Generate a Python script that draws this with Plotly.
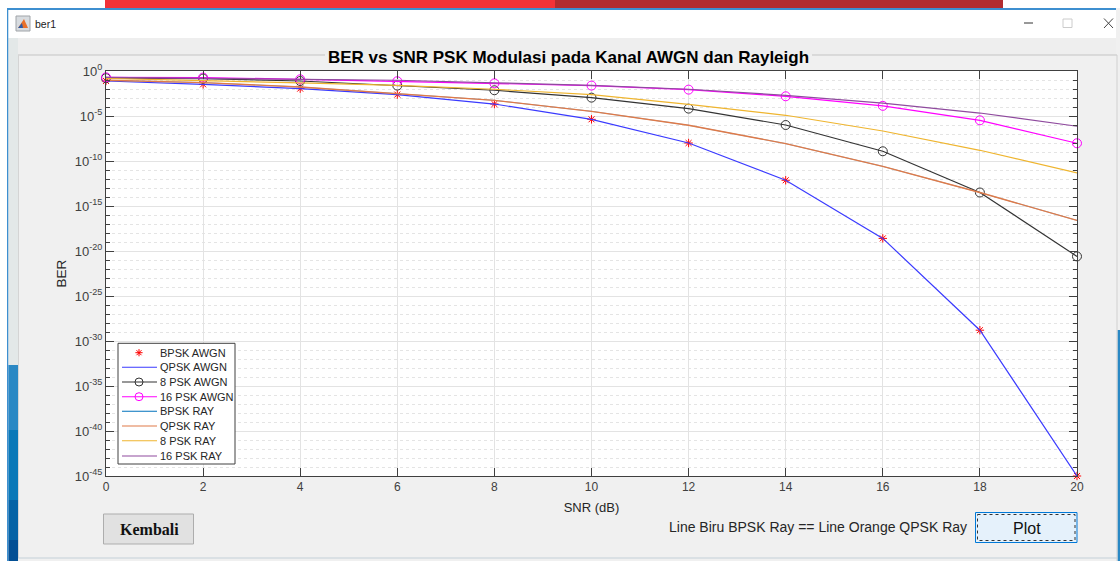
import plotly.graph_objects as go

# ---------- data (log10 of BER) ----------
snr = [0, 2, 4, 6, 8, 10, 12, 14, 16, 18, 20]
bpsk_awgn_exp = [-1.11, -1.48, -1.96, -2.62, -3.67, -5.37, -8.00, -12.14, -18.60, -28.80, -45.0]
qpsk_awgn_exp = [-1.11, -1.48, -1.96, -2.62, -3.67, -5.37, -8.00, -12.14, -18.60, -28.80, -45.0]
psk8_awgn_exp = [-0.80, -0.84, -1.11, -1.62, -2.14, -2.96, -4.18, -6.00, -8.92, -13.50, -20.60]
psk16_awgn_exp = [-0.70, -0.73, -0.92, -1.14, -1.37, -1.62, -2.07, -2.81, -3.87, -5.48, -8.03]
bpsk_ray_exp = [-1.03, -1.29, -1.78, -2.51, -3.26, -4.48, -6.03, -8.07, -10.60, -13.50, -16.60]
qpsk_ray_exp = [-1.03, -1.29, -1.78, -2.51, -3.26, -4.48, -6.03, -8.07, -10.60, -13.50, -16.60]
psk8_ray_exp = [-0.81, -1.03, -1.33, -1.59, -2.03, -2.62, -3.70, -4.92, -6.67, -8.81, -11.33]
psk16_ray_exp = [-0.70, -0.79, -0.90, -1.03, -1.31, -1.59, -2.03, -2.70, -3.56, -4.67, -6.14]

xticks = [0, 2, 4, 6, 8, 10, 12, 14, 16, 18, 20]
ytick_exps = [0, -5, -10, -15, -20, -25, -30, -35, -40, -45]
minor_exps = [e for e in range(-45, 1) if e % 5 != 0]

series_names = ["BPSK AWGN", "QPSK AWGN", "8 PSK AWGN", "16 PSK AWGN",
                "BPSK RAY", "QPSK RAY", "8 PSK RAY", "16 PSK RAY"]
series_colors = ["#ff0000", "#3a3aff", "#333333", "#ff00ff",
                 "#0072bd", "#e07a48", "#efb52f", "#8f4a9e"]

chart_title = "BER vs SNR PSK Modulasi pada Kanal AWGN dan Rayleigh"
note_text = "Line Biru BPSK Ray == Line Orange QPSK Ray"

# ---------- layout geometry of the screenshot ----------
W, H = 1120, 561
L, R, T, B = 106, 1077, 71, 476
PANEL = "#f0f0f0"
FONT = "Liberation Sans"


def px(x):
    return (x - L) / (R - L)


def py(y):
    return (B - y) / (B - T)


def rect(x0, y0, x1, y1, fill, line=None, lw=1, dash=None, layer="below"):
    return dict(type="rect", xref="paper", yref="paper", x0=px(x0), x1=px(x1), y0=py(y0), y1=py(y1),
                fillcolor=fill, line=dict(color=line or fill, width=lw if line else 0, dash=dash),
                layer=layer)


def seg(x0, y0, x1, y1, color, lw=1, layer="below"):
    return dict(type="line", xref="paper", yref="paper", x0=px(x0), x1=px(x1), y0=py(y0), y1=py(y1),
                line=dict(color=color, width=lw), layer=layer)


def label(x, y, text, size, color="#262626", family=FONT, anchor="center"):
    return dict(xref="paper", yref="paper", x=px(x), y=py(y), text=text, showarrow=False,
                xanchor=anchor, yanchor="middle", font=dict(family=family, size=size, color=color))


def ys(exps):
    return [10.0 ** e for e in exps]


fig = go.Figure()


def line_trace(i, exps, marker=None, mode="lines", msize=8, width=1.1):
    color = series_colors[i]
    fig.add_trace(go.Scatter(
        x=snr, y=ys(exps), name=series_names[i], mode=mode, cliponaxis=False if marker else True,
        showlegend=False,
        line=dict(color=color, width=width),
        marker=dict(symbol=marker, size=msize, color=color, line=dict(color=color, width=1)) if marker else None,
    ))


line_trace(0, bpsk_awgn_exp, "asterisk-open", "markers", 7)
line_trace(1, qpsk_awgn_exp, width=1.2)
line_trace(2, psk8_awgn_exp, "circle-open", "lines+markers", 9, 1.2)
line_trace(3, psk16_awgn_exp, "circle-open", "lines+markers", 9, 1.2)
line_trace(4, bpsk_ray_exp, width=0.5)
line_trace(5, qpsk_ray_exp, width=1.4)
line_trace(6, psk8_ray_exp, width=1.2)
line_trace(7, psk16_ray_exp, width=1.2)

shapes = [
    # desktop behind the window
    rect(0, 0, W, 8, "#ffffff"),
    rect(105, 0, 555, 8, "#f23238"),
    rect(555, 0, 1003, 8, "#b22c2f"),
    rect(0, 8, 7, H, "#ffffff"),
    rect(7, 8, 1116, 10, "#3d8fd0"),
    rect(7, 8, 8.5, H, "#3d8fd0"),
    # title bar
    rect(8.5, 10, 1116, 38, "#ffffff"),
    # strip between window border and panel
    rect(8.5, 38, 18, 365, "#e3e8e8"),
    rect(8.5, 365, 18, 430, "#2a88c4"),
    rect(8.5, 430, 18, 500, "#0a78b8"),
    rect(8.5, 500, 18, 540, "#0563a6"),
    rect(8.5, 540, 18, H, "#034f94"),
    rect(18, 38, 1116, 55, "#eeeeee"),
    rect(1117.5, 10, W, 330, "#f0f0f0"),
    rect(1117.5, 330, W, H, "#2a88c4"),
    # panel border, broken by the title
    seg(18, 55, 325, 55, "#c4c4c4"),
    seg(812, 55, 1117, 55, "#c4c4c4"),
    seg(18.5, 55, 18.5, 558, "#d4d4d4"),
    seg(1117, 55, 1117, H, "#d0d0d0"),
    seg(18, 558, 1117, 558, "#c4d0d8"),
    # window icon
    rect(16, 16, 30, 31, "#d8dce0", "#a0a4a8"),
    dict(type="path", xref="paper", yref="paper", layer="below", fillcolor="#e8702a", line=dict(width=0),
         path=f"M {px(18)} {py(28)} L {px(24)} {py(19)} L {px(28)} {py(28)} Z"),
    dict(type="path", xref="paper", yref="paper", layer="below", fillcolor="#2a5caa", line=dict(width=0),
         path=f"M {px(18)} {py(28)} L {px(22)} {py(23)} L {px(23)} {py(28)} Z"),
    # window controls
    seg(1024, 23, 1033, 23, "#333333"),
    rect(1063, 19, 1072, 27.5, "#ffffff", "#cccccc"),
    seg(1104, 18.5, 1113, 28, "#444444"),
    seg(1104, 28, 1113, 18.5, "#444444"),
    # buttons
    rect(103.5, 514, 193.5, 544, "#e1e1e1", "#adadad"),
    rect(975.5, 512.5, 1077, 542.5, "#e5f1fb", "#0078d7"),
    rect(977.5, 514.5, 1075, 540.5, "rgba(0,0,0,0)", "#333333", 1, "dot"),
]

annotations = [
    label(33, 24, "ber1", 10.5, "#222222", anchor="left"),
    label(149, 529, "<b>Kembali</b>", 16, "#111111", "Liberation Serif"),
    label(1027, 528, "Plot", 16, "#111111"),
    label(817.5, 527, note_text, 14),
]

# legend box: plotly's own legend cannot set rows tighter than 19 px, the reference has 14.7 px rows
legend_rows = [352.7, 367.3, 382, 396.7, 411.3, 426, 440.7, 456]
shapes.append(rect(118, 343.3, 235, 464, "#ffffff", "#404040", layer="above"))
for i, (name, color, row) in enumerate(zip(series_names, series_colors, legend_rows)):
    if i == 0:
        r = 3.6
        shapes += [seg(139 - r, row, 139 + r, row, color, 1, "above"),
                   seg(139, row - r, 139, row + r, color, 1, "above"),
                   seg(139 - r * .7, row - r * .7, 139 + r * .7, row + r * .7, color, 1, "above"),
                   seg(139 - r * .7, row + r * .7, 139 + r * .7, row - r * .7, color, 1, "above")]
    else:
        shapes.append(seg(122, row, 157, row, color, 1.1, "above"))
    if i in (2, 3):
        shapes.append(dict(type="circle", xref="paper", yref="paper", layer="above",
                           x0=px(135), x1=px(143), y0=py(row + 4), y1=py(row - 4),
                           fillcolor="rgba(0,0,0,0)", line=dict(color=color, width=1)))
    annotations.append(label(158, row, name, 11, "#262626", anchor="left"))

axis_common = dict(showline=True, linecolor="#404040", linewidth=1, mirror="allticks",
                   ticks="inside", tickcolor="#404040", showgrid=True, gridcolor="#e3e3e3",
                   gridwidth=1, zeroline=False)

fig.update_layout(
    width=W, height=H, autosize=False,
    margin=dict(l=L, r=W - R, t=T, b=H - B, pad=0),
    paper_bgcolor=PANEL, plot_bgcolor="#ffffff",
    font=dict(family=FONT, color="#262626"),
    showlegend=False,
    title=dict(text=f"<b>{chart_title}</b>", x=568.5 / W, y=1 - 57.5 / H, xref="container",
               xanchor="center", yanchor="middle", font=dict(family=FONT, size=17, color="#000000")),
    shapes=shapes, annotations=annotations,
    xaxis=dict(axis_common, range=[0, 20], tickvals=xticks, ticklen=8, ticktext=[str(t) for t in xticks],
               tickfont=dict(family=FONT, size=12, color="#404040"),
               title=dict(text="SNR (dB)", standoff=9, font=dict(family=FONT, size=13, color="#262626"))),
    yaxis=dict(axis_common, type="log", range=[-45, 0],
               tickvals=[10.0 ** e for e in ytick_exps],
               ticktext=[f"10<sup>{e}</sup>" for e in ytick_exps], ticklen=8,
               tickfont=dict(family=FONT, size=13, color="#404040"),
               title=dict(text="BER", standoff=5, font=dict(family=FONT, size=13.5, color="#262626")),
               minor=dict(tickvals=[10.0 ** e for e in minor_exps], ticks="inside", ticklen=4,
                          tickcolor="#404040", showgrid=True, gridcolor="#e4e4e4", griddash="dot", gridwidth=1)),
)

fig.write_html("out.html", config=dict(displayModeBar=False),
               post_script="document.body.style.margin='0';document.body.style.overflow='hidden';")
